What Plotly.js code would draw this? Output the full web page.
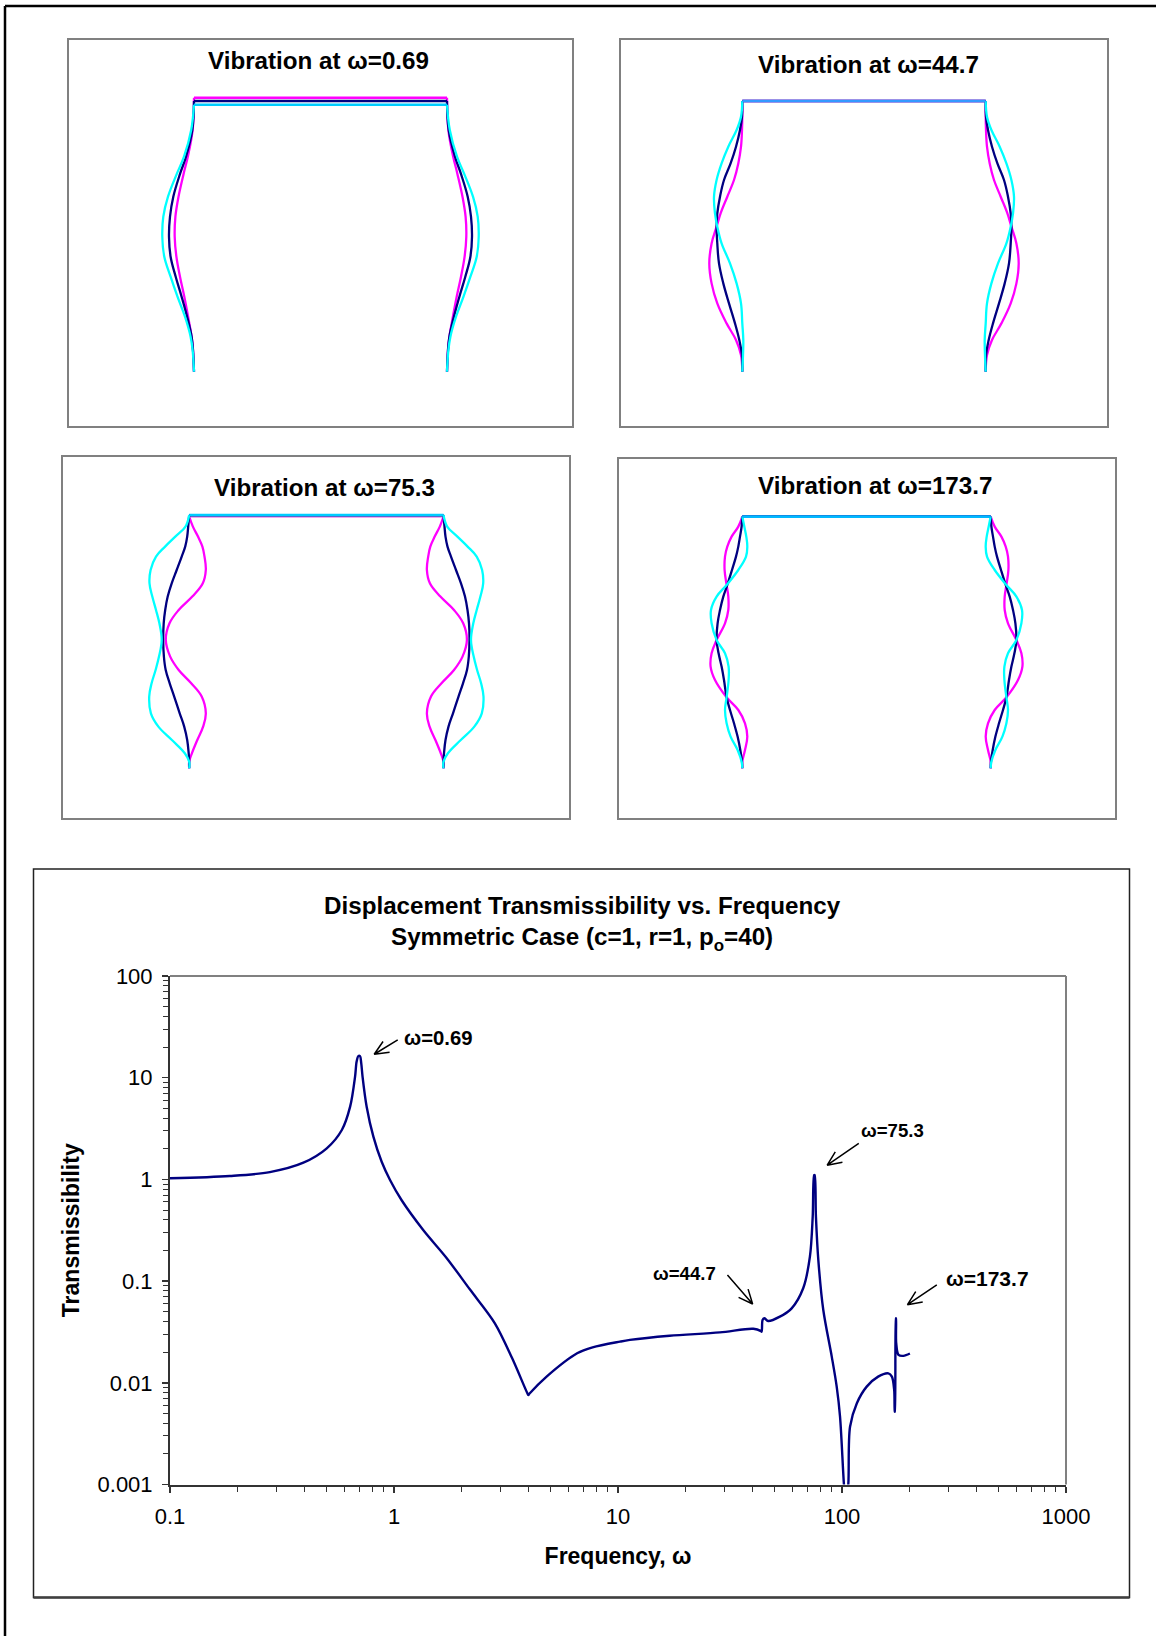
<!DOCTYPE html>
<html>
<head>
<meta charset="utf-8">
<script src="https://cdn.plot.ly/plotly-3.0.1.min.js"></script>
<style>html,body{margin:0;padding:0;background:#fff}#chart{width:1156px;height:1636px}</style>
</head>
<body>
<div id="chart"></div>
<script>
// ---------- Transmissibility curve ----------
const freq = [0.1,0.185,0.279,0.394,0.501,0.585,0.637,0.67,0.681,0.693,0.705,0.714,0.724,0.755,0.809,0.881,0.96,1.08,1.35,1.72,2.18,2.82,3.37,3.96,3.98,4.02,4.8,6.57,7.7,10.2,11.3,17,28.5,40.2,43.5,43.8,44.2,45,46.8,52.8,59.6,67.1,71.9,74,75.1,75.5,76.5,78.4,82.5,90,94.7,98,102,104,106.7,108.6,116.5,128.9,145,161,167,171,172,172.2,174,174.2,174.6,178.8,188,201];
const trans = [1.025,1.08,1.18,1.46,2.02,3.06,5.19,10.2,14.4,16.3,16.3,13.9,10.2,5.19,2.63,1.49,0.986,0.627,0.318,0.168,0.083,0.0385,0.0174,0.0077,0.00759,0.0078,0.0115,0.0195,0.0223,0.0254,0.0264,0.029,0.0313,0.034,0.0322,0.0318,0.0415,0.0431,0.0405,0.0447,0.054,0.085,0.174,0.43,1.1,1.1,0.43,0.161,0.052,0.0181,0.00917,0.00465,0.001,0.0006,0.001,0.0037,0.0063,0.00917,0.0115,0.0124,0.0115,0.0085,0.0052,0.0052,0.0431,0.0431,0.0245,0.0188,0.0184,0.0194];
const xTickVals = [0.1,1,10,100,1000];
const xTickText = ['0.1','1','10','100','1000'];
const yTickVals = [0.001,0.01,0.1,1,10,100];
const yTickText = ['0.001','0.01','0.1','1','10','100'];
const minorMultipliers = [2,3,4,5,6,7,8,9];
const mainTitle = 'Displacement Transmissibility vs. Frequency<br>Symmetric Case (c=1, r=1, p<sub>o</sub>=40)';
const xTitle = 'Frequency, ω';
const yTitle = 'Transmissibility';
const calloutLabels = ['ω=0.69','ω=75.3','ω=44.7','ω=173.7'];
const calloutX = [1.57,168,19.9,445];
const calloutY = [24.7,3.01,0.119,0.106];
const calloutSize = [20.3,18.6,18.6,21];
const arrowTipX = [0.816,85.9,39.9,196];
const arrowTipY = [17,1.38,0.0596,0.0586];
const arrowTailX = [1.039,118.8,30.8,265];
const arrowTailY = [23.5,2.26,0.115,0.0916];

// ---------- Mode shapes: outward column deflection vs height ----------
const h1 = [241.7,215,198.3,175,155,135,115,95,75,55,35,21.7,0];
const d1Navy = [1.7,8,13.8,20.7,24,25,23.4,18.3,12.4,6.9,2.4,1,0];
const d1Cyan = [2.8,10,17,26,30.7,31.7,29.7,23.4,16.5,9,3.4,1.4,0];
const d1Magenta = [1.4,6.2,10.3,15.5,18.6,19.3,17.6,14,9.7,5.9,2.4,1,0];
const h2 = [255,241.7,225,208.3,191.7,175,158.3,145,128.3,108.3,88.3,68.3,48.3,31.7,16.7,0];
const d2Navy = [0.3,2.3,6.3,11.7,18.3,22.3,25,25.7,25,23.3,19,13.3,7.3,3,0.3,0];
const d2Cyan = [1.3,5.7,14,20.7,25.7,28.3,27.3,25,20.7,12.3,5.7,1.3,0,-1,-0.7,0];
const d2Magenta = [0,0.3,1.3,4,8.3,15,21.7,25.7,30.7,33,30.7,25,15.7,6.3,1.3,0];
const h3 = [241.7,231.7,221.7,211.7,198.3,185,171.7,158.3,145,128.3,111.7,98.3,85,71.7,55,41.7,28.3,15,6.7,0];
const d3Navy = [1,2,4,7.5,12.5,17.5,21.5,24,25.5,26,25.3,23.5,19.5,15,9.5,5,2,0.5,0,0];
const d3Cyan = [3.7,13.9,24.1,33.2,38.6,39.7,36.9,33.2,29.8,27.5,30.2,33.6,37.6,40,38.3,30.8,17.3,4.4,0,0];
const d3Magenta = [-3.7,-8.8,-13.2,-15.3,-16.6,-13.6,-3.1,10.5,19.7,23.4,19,10.5,-2,-12.5,-16.6,-13.9,-8.1,-2.7,0,0];
const h4 = [241.7,231.7,221.7,211.7,198.3,183.3,171.7,158.3,145,128.3,115,101.7,88.3,71,58.3,45,31.7,18.3,6.7,0];
const d4Navy = [0.7,2.3,4,6.3,10.3,15,19,22.3,24.7,25.7,23.7,20.7,18.3,15.7,12.3,8.3,4.7,2,0.3,0];
const d4Cyan = [-2,-4,-5,-3.7,4,15.7,25.7,31.3,30.7,25.7,17.3,13.7,13.7,15.7,17.3,15.7,11.7,4.7,0.7,0];
const d4Magenta = [4,10.7,15,17.3,17.7,15.7,14,14,17.3,25.7,30.7,31.7,27.3,15.7,4,-2.7,-5,-2.7,0,0];

const panelTitles = ['Vibration at ω=0.69','Vibration at ω=44.7','Vibration at ω=75.3','Vibration at ω=173.7'];
const seriesColors = ['#ff00ff','#000080','#00ffff'];
const beamColors = [['#ff00ff','#000080','#00ccff'],['#ff00ff','#000080','#3399ff'],['#ee88ee','#000080','#00ccff'],['#ff00ff','#000080','#00b8ff']];

// ---------- Layout helpers (page pixels) ----------
const W = 1156, H = 1636;
const fx = p => p / W, fy = p => 1 - p / H;
const pxPerDecadeX = 224, pxPerDecadeY = 101.7;
const panels = [
  {box:[68.5,572,39.5,426],  colL:194,   colR:447,   base:371.7, tops:[274,270.7,267],     h:h1, d:[d1Magenta,d1Navy,d1Cyan], title:[318.5,60.7]},
  {box:[621,1107.3,39.5,426],colL:742.3, colR:985.7, base:371.7, tops:[270.7,270.7,270.7], h:h2, d:[d2Magenta,d2Navy,d2Cyan], title:[868.3,64.3]},
  {box:[62.8,568.6,457,818], colL:189.2, colR:443.5, base:768.3, tops:[251.8,253,253.3],   h:h3, d:[d3Magenta,d3Navy,d3Cyan], title:[324,487.7]},
  {box:[618.5,1114.7,459.3,817.5],colL:742.3,colR:990.7,base:768.3,tops:[251.7,251.7,251.7],h:h4,d:[d4Magenta,d4Navy,d4Cyan],title:[874.7,485.7]}
];
const data = [], annotations = [];
const layout = {width:W,height:H,margin:{l:0,r:0,t:0,b:0},paper_bgcolor:'#fff',plot_bgcolor:'#fff',showlegend:false,
  font:{family:'"Liberation Sans",Arial,sans-serif',color:'#000'},annotations,
  shapes:[
    {type:'line',xref:'paper',yref:'paper',x0:fx(5),x1:1,y0:fy(6),y1:fy(6),line:{color:'#000',width:2.5}},
    {type:'line',xref:'paper',yref:'paper',x0:fx(5),x1:fx(5),y0:fy(6),y1:0,line:{color:'#000',width:2.5}},
    {type:'rect',xref:'paper',yref:'paper',x0:fx(33.5),x1:fx(1129.5),y0:fy(869),y1:fy(1597.5),line:{color:'#222',width:1.5}},
    {type:'line',xref:'paper',yref:'paper',x0:fx(33.5),x1:fx(1129.5),y0:fy(1597.5),y1:fy(1597.5),line:{color:'#404040',width:2.5}},
    {type:'line',xref:'paper',yref:'paper',x0:fx(170),x1:fx(1066),y0:fy(976),y1:fy(976),line:{color:'#808080',width:2}},
    {type:'line',xref:'paper',yref:'paper',x0:fx(1066),x1:fx(1066),y0:fy(976),y1:fy(1484.5),line:{color:'#808080',width:2}}
  ]};

panels.forEach((p,i) => {
  const n = i + 1, sfx = n === 1 ? '' : String(n);
  const [l,r,t,b] = p.box;
  layout['xaxis'+sfx] = {domain:[fx(l),fx(r)],range:[l-p.colL,r-p.colL],showgrid:false,zeroline:false,showticklabels:false,ticks:'',showline:true,mirror:true,linecolor:'#808080',linewidth:2,anchor:'y'+sfx,fixedrange:true};
  layout['yaxis'+sfx] = {domain:[fy(b),fy(t)],range:[p.base-b,p.base-t],showgrid:false,zeroline:false,showticklabels:false,ticks:'',showline:true,mirror:true,linecolor:'#808080',linewidth:2,anchor:'x'+sfx,fixedrange:true};
  const L = p.colR - p.colL;
  p.d.forEach((d,s) => {
    const top = p.tops[s];
    const ys = [top].concat(p.h);
    const left = [0].concat(d.map(v => -v));
    const right = [L].concat(d.map(v => L + v));
    const common = {type:'scatter',mode:'lines',xaxis:'x'+sfx,yaxis:'y'+sfx,hoverinfo:'skip'};
    const ln = {color:seriesColors[s],width:2.3,shape:'spline',smoothing:1.1};
    data.push(Object.assign({x:left,y:ys,line:ln},common));
    data.push(Object.assign({x:right,y:ys,line:ln},common));
    data.push(Object.assign({x:[0,L],y:[top,top],line:{color:beamColors[i][s],width:2.6}},common));
  });
  annotations.push({xref:'paper',yref:'paper',x:fx(p.title[0]),y:fy(p.title[1]),xanchor:'center',yanchor:'middle',showarrow:false,text:'<b>'+panelTitles[i]+'</b>',font:{size:24.2,color:'#000'}});
});

// ---------- Main chart ----------
const minorTicks = decades => decades.flatMap(d => minorMultipliers.map(m => d * m));
layout.xaxis5 = {type:'log',domain:[fx(170),fx(1066)],range:[-1,3],anchor:'y5',tickmode:'array',tickvals:xTickVals,ticktext:xTickText,ticks:'outside',ticklen:6,tickwidth:1.5,tickcolor:'#333',
  minor:{ticks:'outside',ticklen:5,tickwidth:1,tickcolor:'#333',tickmode:'array',tickvals:minorTicks([0.1,1,10,100]),showgrid:false},ticklabelstandoff:5,
  showgrid:false,zeroline:false,showline:true,linecolor:'#333',linewidth:2,tickfont:{size:22,color:'#000'},title:{text:'<b>'+xTitle+'</b>',font:{size:23,color:'#000'},standoff:20},fixedrange:true};
layout.yaxis5 = {type:'log',domain:[fy(1484.5),fy(976)],range:[-3,2],anchor:'x5',tickmode:'array',tickvals:yTickVals,ticktext:yTickText,ticks:'outside',ticklen:6,tickwidth:1.5,tickcolor:'#333',
  minor:{ticks:'outside',ticklen:5,tickwidth:1,tickcolor:'#333',tickmode:'array',tickvals:minorTicks([0.001,0.01,0.1,1,10]),showgrid:false},ticklabelstandoff:5,
  showgrid:false,zeroline:false,showline:true,linecolor:'#333',linewidth:2,tickfont:{size:22,color:'#000'},title:{text:'<b>'+yTitle+'</b>',font:{size:23,color:'#000'},standoff:11},fixedrange:true};
data.push({type:'scatter',mode:'lines',x:freq,y:trans,xaxis:'x5',yaxis:'y5',line:{color:'#000080',width:2.4,shape:'spline',smoothing:0.9},hoverinfo:'skip'});

// open "V" arrowhead: two barbs fanned from the shaft direction on the log axes
const barbLen = 15.5, barbAngle = 24 * Math.PI / 180;
calloutLabels.forEach((t,i) => {
  annotations.push({xref:'x5',yref:'y5',x:Math.log10(calloutX[i]),y:Math.log10(calloutY[i]),xanchor:'center',yanchor:'middle',showarrow:false,text:'<b>'+t+'</b>',font:{size:calloutSize[i],color:'#000'}});
  const dxp = Math.log10(arrowTailX[i] / arrowTipX[i]) * pxPerDecadeX;
  const dyp = Math.log10(arrowTailY[i] / arrowTipY[i]) * pxPerDecadeY;
  const a = Math.atan2(dyp, dxp);
  const barb = sgn => [
    arrowTipX[i] * Math.pow(10, barbLen * Math.cos(a + sgn * barbAngle) / pxPerDecadeX),
    arrowTipY[i] * Math.pow(10, barbLen * Math.sin(a + sgn * barbAngle) / pxPerDecadeY)
  ];
  const b1 = barb(1), b2 = barb(-1);
  data.push({type:'scatter',mode:'lines',xaxis:'x5',yaxis:'y5',hoverinfo:'skip',
    x:[arrowTailX[i],arrowTipX[i],b1[0],arrowTipX[i],b2[0]],
    y:[arrowTailY[i],arrowTipY[i],b1[1],arrowTipY[i],b2[1]],
    line:{color:'#000',width:1.5}});
});

annotations.push({xref:'paper',yref:'paper',x:fx(582),y:fy(923.5),xanchor:'center',yanchor:'middle',showarrow:false,text:'<b>'+mainTitle.replace('<br>','</b><br><b>')+'</b>',font:{size:24.2,color:'#000'}});

Plotly.newPlot('chart',data,layout,{displayModeBar:false,staticPlot:true});
</script>
</body>
</html>
